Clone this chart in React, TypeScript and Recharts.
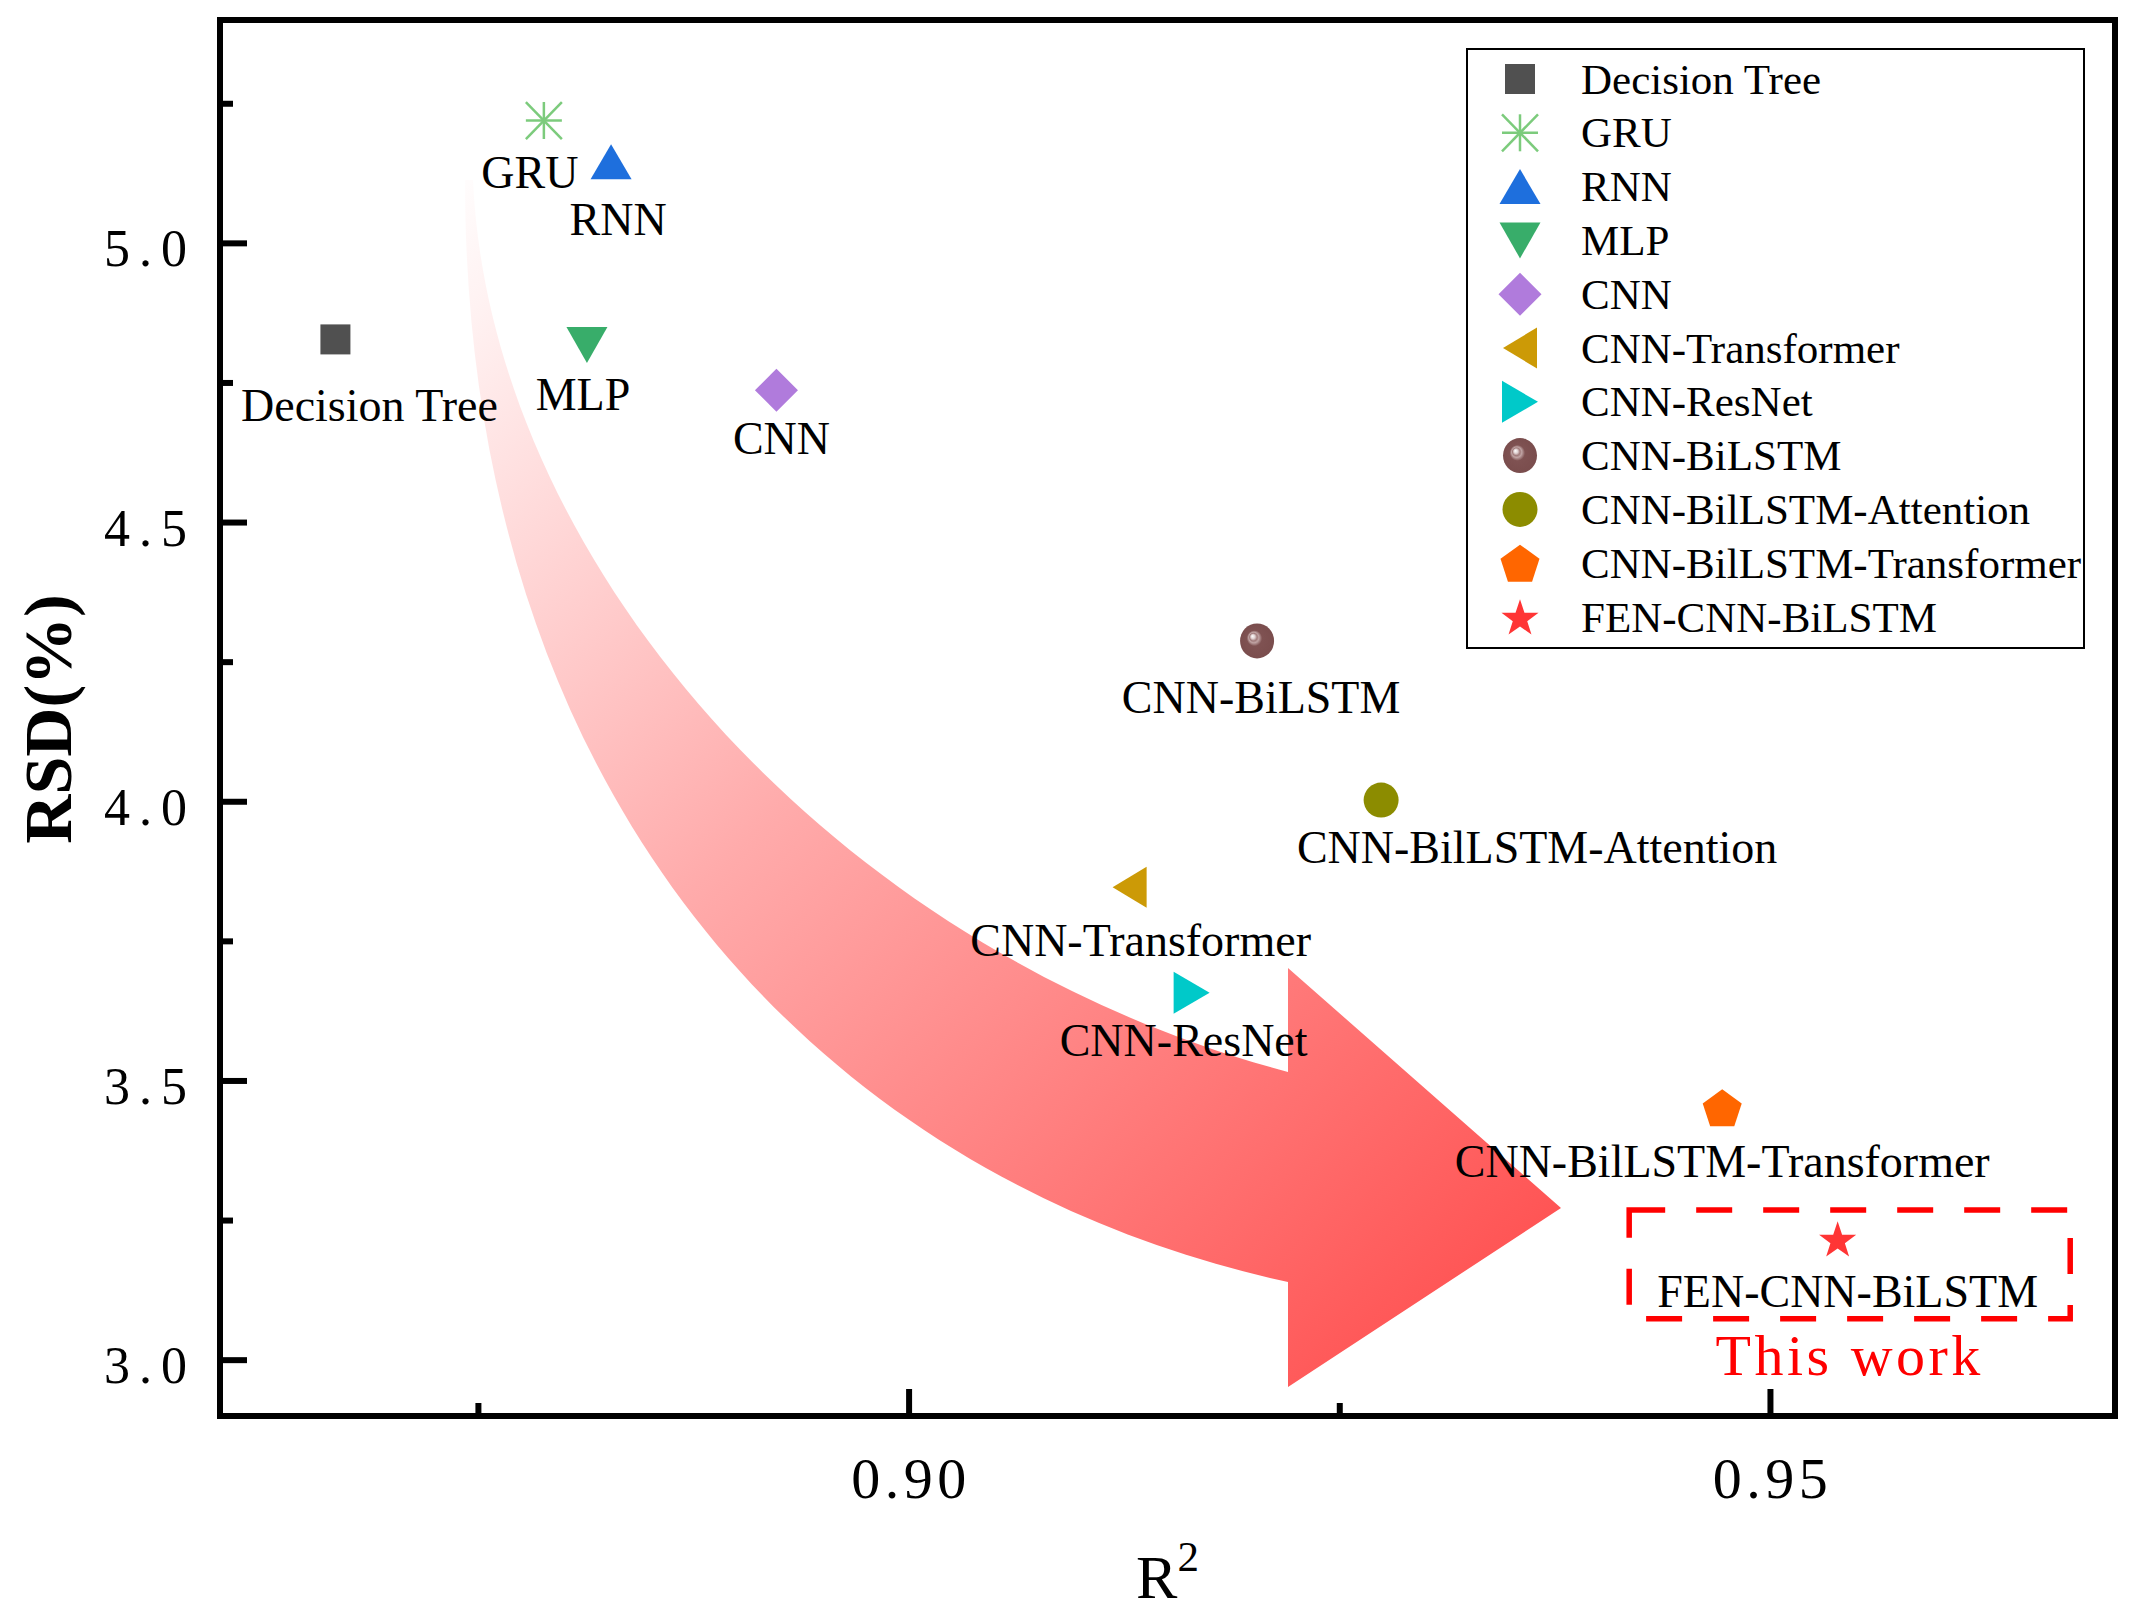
import React from "react"
import { ScatterChart, Scatter, XAxis, YAxis, ReferenceArea, Legend } from "recharts"

// models, in legend order
const MODELS = [
    "Decision Tree",
    "GRU",
    "RNN",
    "MLP",
    "CNN",
    "CNN-Transformer",
    "CNN-ResNet",
    "CNN-BiLSTM",
    "CNN-BilLSTM-Attention",
    "CNN-BilLSTM-Transformer",
    "FEN-CNN-BiLSTM",
]
const R2_VALUES = [0.8667, 0.8788, 0.8827, 0.8813, 0.8923, 0.9128, 0.9164, 0.9202, 0.9274, 0.9472, 0.9539]
const RSD_VALUES = [4.828, 5.22, 5.146, 4.818, 4.737, 3.847, 3.658, 4.288, 4.003, 3.452, 3.217]

const X_DOMAIN = [0.86, 0.97]
const Y_DOMAIN = [2.9, 5.4]
const X_TICKS = [0.875, 0.9, 0.925, 0.95]
const Y_TICKS = [3, 3.25, 3.5, 3.75, 4, 4.25, 4.5, 4.75, 5, 5.25]

// "This work" highlight box (data units)
const BOX_X = [0.9418, 0.9674]
const BOX_Y = [3.074, 3.269]

const SERIF = "'Liberation Serif', 'Times New Roman', serif"

const MARKERS: Record<string, { kind: string; color: string }> = {
    "Decision Tree": { kind: "square", color: "#505050" },
    GRU: { kind: "asterisk", color: "#7ccb7c" },
    RNN: { kind: "triUp", color: "#1e6fdd" },
    MLP: { kind: "triDown", color: "#38ad6a" },
    CNN: { kind: "diamond", color: "#b07bdc" },
    "CNN-Transformer": { kind: "triLeft", color: "#cc9a06" },
    "CNN-ResNet": { kind: "triRight", color: "#00c9c9" },
    "CNN-BiLSTM": { kind: "sphere", color: "#7a4d4d" },
    "CNN-BilLSTM-Attention": { kind: "circle", color: "#8c8c00" },
    "CNN-BilLSTM-Transformer": { kind: "pentagon", color: "#ff6600" },
    "FEN-CNN-BiLSTM": { kind: "star", color: "#ff3535" },
}

// label position relative to the marker: [dx, baseline dy]
const LABEL_OFFSETS: Record<string, [number, number]> = {
    "Decision Tree": [34, 82],
    GRU: [-14, 67],
    RNN: [7, 73],
    MLP: [-4, 65],
    CNN: [5, 64],
    "CNN-Transformer": [11, 69],
    "CNN-ResNet": [-8, 63],
    "CNN-BiLSTM": [4, 72],
    "CNN-BilLSTM-Attention": [156, 63],
    "CNN-BilLSTM-Transformer": [0, 69],
    "FEN-CNN-BiLSTM": [10, 68],
}

function polyStar(cx: number, cy: number, outer: number, inner: number, n: number) {
    const pts: string[] = []
    const step = Math.PI / n
    for (let i = 0; i < 2 * n; i++) {
        const r = inner > 0 && i % 2 === 1 ? inner : outer
        if (inner <= 0 && i % 2 === 1) continue
        const a = -Math.PI / 2 + i * step
        pts.push(`${cx + r * Math.cos(a)},${cy + r * Math.sin(a)}`)
    }
    return pts.join(" ")
}

function Marker({ kind, color, cx, cy, gid }: { kind: string; color: string; cx: number; cy: number; gid: string }) {
    switch (kind) {
        case "square":
            return <rect x={cx - 15} y={cy - 15} width={30} height={30} fill={color} />
        case "asterisk":
            return (
                <g stroke={color} strokeWidth={2.5}>
                    <line x1={cx} y1={cy - 18.5} x2={cx} y2={cy + 18.5} />
                    <line x1={cx - 18} y1={cy} x2={cx + 18} y2={cy} />
                    <line x1={cx - 18} y1={cy - 18.5} x2={cx + 18} y2={cy + 18.5} />
                    <line x1={cx - 18} y1={cy + 18.5} x2={cx + 18} y2={cy - 18.5} />
                </g>
            )
        case "triUp":
            return <polygon points={`${cx},${cy - 17.5} ${cx + 20.5},${cy + 17.5} ${cx - 20.5},${cy + 17.5}`} fill={color} />
        case "triDown":
            return <polygon points={`${cx - 20.5},${cy - 18} ${cx + 20.5},${cy - 18} ${cx},${cy + 18}`} fill={color} />
        case "diamond":
            return <polygon points={`${cx},${cy - 21.5} ${cx + 21.5},${cy} ${cx},${cy + 21.5} ${cx - 21.5},${cy}`} fill={color} />
        case "triLeft":
            return <polygon points={`${cx - 17},${cy} ${cx + 17},${cy - 20.5} ${cx + 17},${cy + 20.5}`} fill={color} />
        case "triRight":
            return <polygon points={`${cx - 18},${cy - 21} ${cx + 18},${cy} ${cx - 18},${cy + 21}`} fill={color} />
        case "sphere":
            return (
                <g>
                    <defs>
                        <radialGradient id={gid} cx="0.5" cy="0.5" r="0.5" fx="0.36" fy="0.36">
                            <stop offset="0" stopColor="#ffffff" />
                            <stop offset="0.12" stopColor="#e0d2d2" />
                            <stop offset="0.22" stopColor="#a07a7a" />
                            <stop offset="0.3" stopColor="#c0a4a4" />
                            <stop offset="0.45" stopColor="#7f5252" />
                            <stop offset="1" stopColor={color} />
                        </radialGradient>
                    </defs>
                    <ellipse cx={cx} cy={cy} rx={17} ry={17.5} fill={`url(#${gid})`} />
                </g>
            )
        case "circle":
            return <ellipse cx={cx} cy={cy} rx={17.5} ry={17.5} fill={color} />
        case "pentagon":
            return <polygon points={polyStar(cx, cy + 2, 20.5, 0, 5)} fill={color} />
        case "star":
            return <polygon points={polyStar(cx, cy + 1.8, 19.5, 7.6, 5)} fill={color} />
        default:
            return null
    }
}

function ModelPoint({ name, cx, cy }: { name: string; cx: number; cy: number }) {
    const m = MARKERS[name]
    const [dx, dy] = LABEL_OFFSETS[name]
    return (
        <g>
            <Marker kind={m.kind} color={m.color} cx={cx} cy={cy} gid={`pt-${m.kind}`} />
            <text x={cx + dx} y={cy + dy} textAnchor="middle" fontFamily={SERIF} fontSize={46} fill="#000">
                {name}
            </text>
        </g>
    )
}

function XTick(props: any) {
    const { x, y, payload } = props
    const v = payload.value
    const major = Math.abs(v * 20 - Math.round(v * 20)) < 1e-6
    return (
        <g>
            <line x1={x} y1={y} x2={x} y2={y - (major ? 27 : 13)} stroke="#000" strokeWidth={6} />
            {major && (
                <text x={x + 2} y={y + 82} textAnchor="middle" fontFamily={SERIF} fontSize={58} letterSpacing={4.5} fill="#000">
                    {v.toFixed(2)}
                </text>
            )}
        </g>
    )
}

function YTick(props: any) {
    const { x, y, payload } = props
    const v = payload.value
    const major = Math.abs(v * 2 - Math.round(v * 2)) < 1e-6
    return (
        <g>
            <line x1={x} y1={y} x2={x + (major ? 27 : 13)} y2={y} stroke="#000" strokeWidth={6} />
            {major && (
                <text x={x - 24} y={y + 23} textAnchor="end" fontFamily={SERIF} fontSize={52} letterSpacing={9} fill="#000">
                    {v.toFixed(1)}
                </text>
            )}
        </g>
    )
}

function XTitle(props: any) {
    const vb = props.viewBox || { x: 220, y: 1416, width: 1895, height: 196 }
    return (
        <text x={vb.x + vb.width / 2} y={vb.y + 182} textAnchor="middle" fontFamily={SERIF} fontSize={62} fill="#000">
            R
            <tspan fontSize={43} dy={-27}>
                2
            </tspan>
        </text>
    )
}

function YTitle(props: any) {
    const vb = props.viewBox || { x: 0, y: 20, width: 220, height: 1396 }
    const cx = vb.x + 71
    const cy = vb.y + vb.height / 2 + 1
    return (
        <text
            x={cx}
            y={cy}
            transform={`rotate(-90, ${cx}, ${cy})`}
            textAnchor="middle"
            fontFamily={SERIF}
            fontWeight="bold"
            fontSize={68}
            fill="#000"
        >
            RSD(%)
        </text>
    )
}

function ThisWork(props: any) {
    const vb = props.viewBox || { x: 1630, y: 1210, width: 440, height: 109 }
    return (
        <text x={vb.x + vb.width / 2} y={vb.y + vb.height + 56} textAnchor="middle" fontFamily={SERIF} fontSize={58} letterSpacing={3.5} fill="#ff0000">
            This work
        </text>
    )
}

function LegendBox() {
    const rowStep = 53.8
    return (
        <svg width={619} height={601} style={{ display: "block" }}>
            <rect x={1} y={1} width={617} height={599} fill="#fff" stroke="#000" strokeWidth={2} />
            {MODELS.map((name, i) => {
                const cy = 31 + i * rowStep
                const m = MARKERS[name]
                return (
                    <g key={name}>
                        <Marker kind={m.kind} color={m.color} cx={54} cy={cy} gid={`lg-${m.kind}`} />
                        <text x={115} y={cy + 14.5} fontFamily={SERIF} fontSize={43} fill="#000">
                            {name}
                        </text>
                    </g>
                )
            })}
        </svg>
    )
}

function Arrow() {
    return (
        <svg width={2137} height={1612} style={{ position: "absolute", left: 0, top: 0 }}>
            <defs>
                <linearGradient id="arrowFade" gradientUnits="userSpaceOnUse" x1={440} y1={170} x2={1500} y2={1300}>
                    <stop offset="0" stopColor="#ffffff" />
                    <stop offset="0.08" stopColor="#fff2f2" />
                    <stop offset="0.45" stopColor="#ffabab" />
                    <stop offset="1" stopColor="#ff5252" />
                </linearGradient>
            </defs>
            <path
                d="M465,180 C465,800 820,1180 1288,1282 L1288,1387 L1561,1208 L1288,968 L1288,1072 C830,950 490,560 473,180 Z"
                fill="url(#arrowFade)"
            />
        </svg>
    )
}

export default function App() {
    return (
        <div style={{ position: "absolute", left: 0, top: 0, width: 2137, height: 1612, background: "#fff" }}>
            <Arrow />
            <div style={{ position: "absolute", left: 0, top: 0 }}>
                <ScatterChart width={2137} height={1612} margin={{ top: 20, right: 22, bottom: 0, left: 0 }}>
                    <XAxis
                        type="number"
                        dataKey="x"
                        domain={X_DOMAIN}
                        allowDataOverflow
                        ticks={X_TICKS}
                        interval={0}
                        height={196}
                        tickSize={0}
                        tickMargin={0}
                        tickLine={false}
                        axisLine={{ stroke: "#000", strokeWidth: 6 }}
                        tick={(p: any) => <XTick {...p} />}
                        label={{ content: (p: any) => <XTitle {...p} /> }}
                    />
                    <YAxis
                        type="number"
                        dataKey="y"
                        domain={Y_DOMAIN}
                        allowDataOverflow
                        ticks={Y_TICKS}
                        interval={0}
                        width={220}
                        tickSize={0}
                        tickMargin={0}
                        tickLine={false}
                        axisLine={{ stroke: "#000", strokeWidth: 6 }}
                        tick={(p: any) => <YTick {...p} />}
                        label={{ content: (p: any) => <YTitle {...p} /> }}
                    />
                    <ReferenceArea
                        x1={X_DOMAIN[0]}
                        x2={X_DOMAIN[1]}
                        y1={Y_DOMAIN[0]}
                        y2={Y_DOMAIN[1]}
                        fill="none"
                        fillOpacity={0}
                        stroke="#000"
                        strokeWidth={6}
                    />
                    <ReferenceArea
                        x1={BOX_X[0]}
                        x2={BOX_X[1]}
                        y1={BOX_Y[0]}
                        y2={BOX_Y[1]}
                        fill="none"
                        fillOpacity={0}
                        stroke="#ff0000"
                        strokeWidth={5.5}
                        strokeDasharray="36 31"
                        label={{ content: (p: any) => <ThisWork {...p} /> }}
                    />
                    {MODELS.map((name, i) => (
                        <Scatter
                            key={name}
                            name={name}
                            data={[{ x: R2_VALUES[i], y: RSD_VALUES[i] }]}
                            isAnimationActive={false}
                            shape={(p: any) => <ModelPoint name={name} cx={p.cx} cy={p.cy} />}
                        />
                    ))}
                    <Legend
                        layout="vertical"
                        align="center"
                        verticalAlign="middle"
                        wrapperStyle={{ left: 1466, top: 48, width: 619, height: 601 }}
                        content={() => <LegendBox />}
                    />
                </ScatterChart>
            </div>
        </div>
    )
}
